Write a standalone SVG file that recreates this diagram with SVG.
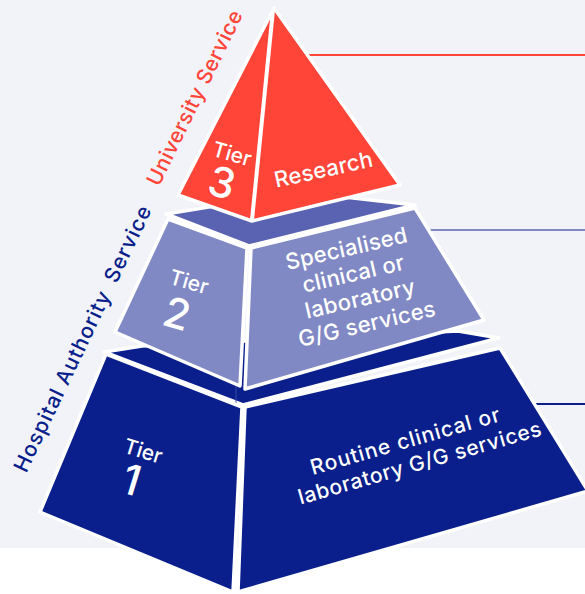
<svg xmlns="http://www.w3.org/2000/svg" width="585" height="594" viewBox="0 0 585 594">
  <style>
    .face { stroke: #ffffff; stroke-width: 3.5; stroke-linejoin: round; }
    .red { fill: #ff4438; }
    .slate { fill: #8189c4; }
    .slate-top { fill: #5a63b1; }
    .navy { fill: #0a1f8b; }
    .lbl { font-family: Inter, "Open Sans", "Liberation Sans", sans-serif; font-weight: 500; fill: #ffffff; text-anchor: middle; }
    .side { font-family: Inter, "Open Sans", "Liberation Sans", sans-serif; font-weight: 500; font-size: 21px; text-anchor: middle; }
    .conn { fill: none; stroke-width: 2; }
  </style>

  <!-- backdrop -->
  <rect x="0" y="0" width="585" height="594" fill="#ffffff"/>
  <rect x="0" y="0" width="585" height="548" fill="#f2f3f9"/>

  <!-- leader lines running off to the right -->
  <g id="connectors">
    <line class="conn" x1="300" y1="55" x2="585" y2="55" stroke="#ff4438"/>
    <line class="conn" x1="420" y1="230" x2="585" y2="230" stroke="#8189c4"/>
    <line class="conn" x1="530" y1="404" x2="585" y2="404" stroke="#0a1f8b"/>
  </g>

  <!-- Tier 1: base block -->
  <g id="tier1">
    <polygon class="face navy" points="104,352 142,346 458,331 499,338 243,405"/>
    <line x1="236" y1="386" x2="236" y2="405" stroke="#3a48a4" stroke-width="1"/>
    <polygon class="face navy" points="106,354 242,407 233,592 40,512"/>
    <polygon class="face navy" points="245,407 500,348 588,491 238,592"/>
    <g transform="translate(141,458) rotate(17)">
      <text class="lbl" x="0" y="0" font-size="21">Tier</text>
    </g>
    <g transform="translate(127,494) rotate(17)">
      <text class="lbl" x="0" y="0" font-size="42">1</text>
    </g>
    <g transform="translate(407,448) rotate(-16)">
      <text class="lbl" x="0" y="0" font-size="21" textLength="196">Routine clinical or</text>
      <text class="lbl" x="8" y="25" font-size="21" textLength="252">laboratory G/G services</text>
    </g>
  </g>

  <!-- Tier 2: middle block -->
  <g id="tier2">
    <polygon class="face slate-top" points="166,214 300,192 415,205 249,246"/>
    <polygon class="face slate" points="168,219 247,248 240,386 115,332"/>
    <polygon class="face slate" points="251,248 415,208 484,320 245,389"/>
    <g transform="translate(187,289) rotate(16)">
      <text class="lbl" x="0" y="0" font-size="21">Tier</text>
    </g>
    <g transform="translate(173,328) rotate(16)">
      <text class="lbl" x="0" y="0" font-size="42">2</text>
    </g>
    <g transform="translate(348,256) rotate(-13)">
      <text class="lbl" x="0" y="0" font-size="22" textLength="124">Specialised</text>
      <text class="lbl" x="1" y="26" font-size="22" textLength="104">clinical or</text>
      <text class="lbl" x="2" y="52" font-size="22" textLength="112">laboratory</text>
      <text class="lbl" x="3" y="78" font-size="22" textLength="140">G/G services</text>
    </g>
  </g>

  <!-- Tier 3: apex -->
  <g id="tier3">
    <polygon class="face red" points="274,8 178,195 252,221 400,185"/>
    <line x1="273" y1="10" x2="252" y2="220" stroke="#ffffff" stroke-width="4"/>
    <g transform="translate(230,161) rotate(16)">
      <text class="lbl" x="0" y="0" font-size="21">Tier</text>
    </g>
    <g transform="translate(218,197) rotate(16)">
      <text class="lbl" x="0" y="0" font-size="42">3</text>
    </g>
    <g transform="translate(325,177) rotate(-12.5)">
      <text class="lbl" x="0" y="0" font-size="22" textLength="100">Research</text>
    </g>
  </g>

  <!-- service bands written along the left flank -->
  <g id="university-service">
    <text class="side" transform="translate(201,101) rotate(-64)" fill="#ff4438" textLength="192">University Service</text>
  </g>
  <g id="hospital-authority-service">
    <text class="side" transform="translate(89,342) rotate(-64.5)" fill="#0a1f8b" textLength="292">Hospital Authority <tspan dx="5">Service</tspan></text>
  </g>
</svg>
